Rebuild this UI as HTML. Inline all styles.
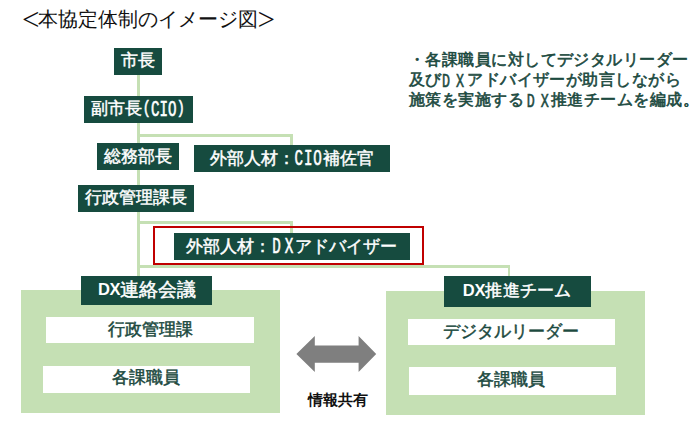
<!DOCTYPE html>
<html lang="ja">
<head>
<meta charset="utf-8">
<title>本協定体制のイメージ図</title>
<style>
  html, body { margin: 0; padding: 0; background: #ffffff; }
  body {
    width: 700px; height: 433px; position: relative; overflow: hidden;
    font-family: "Liberation Sans", sans-serif;
    color: #000;
  }
  .abs { position: absolute; }
  .title {
    left: 22px; top: 5px; height: 28px; line-height: 28px;
    font-size: 20px; white-space: nowrap; color: #111;
  }
  .title .br {
    display: inline-block; width: 15.6px; text-align: center;
    font-family: "Liberation Serif", serif;
    font-size: 31px; line-height: 28px; vertical-align: top;
    position: relative; top: 0.6px;
  }
  .hw {
    font-family: "Liberation Mono", monospace; font-size: 0.835em; letter-spacing: 0;
    font-weight: normal; -webkit-text-stroke: 0.4px currentColor;
    display: inline-block; line-height: 1; transform: translateY(0.187em) scaleY(1.52); transform-origin: 50% 76.6%;
  }
  .hw.pr { transform: translateY(0.03em) scaleY(1.29); }
  .lat { font-size: 16.5px; letter-spacing: -0.2px; font-weight: bold; -webkit-text-stroke: 0; }
  .ln { position: absolute; background: #c5e0b4; }
  .box {
    position: absolute; background: #164b3f; color: #ffffff;
    font-weight: normal; -webkit-text-stroke: 0.45px currentColor; font-size: 17px; line-height: 19px; white-space: nowrap;
    display: flex; align-items: center; justify-content: center;
    box-sizing: border-box; padding-bottom: 1.6px;
  }
  .panel { position: absolute; background: #c5e0b4; }
  .wbox {
    position: absolute; background: #ffffff; color: #1c4a3f;
    font-weight: normal; -webkit-text-stroke: 0.5px currentColor; font-size: 17px; line-height: 19px; white-space: nowrap;
    display: flex; align-items: center; justify-content: center;
    box-sizing: border-box;
  }
  .red { position: absolute; border: 2.6px solid #c00000; box-sizing: border-box; }
  .note {
    position: absolute; left: 409px; top: 50px; width: 295px;
    font-size: 16px; letter-spacing: 0.45px; line-height: 20px; font-weight: normal; -webkit-text-stroke: 0.6px currentColor; color: #1c4a3f;
    white-space: nowrap;
  }
  .share {
    position: absolute; left: 297.7px; top: 391px; width: 80px; height: 18px; line-height: 18px;
    text-align: center; font-size: 15px; font-weight: bold; color: #111; white-space: nowrap;
  }
</style>
</head>
<body>
  <div class="abs title"><span class="br">&lt;</span>本協定体制のイメージ図<span class="br">&gt;</span></div>

  <!-- connector lines -->
  <div class="ln" style="left:137.1px; top:70px; width:3px; height:210px;"></div>
  <div class="ln" style="left:139px; top:133.9px; width:154.2px; height:2.9px;"></div>
  <div class="ln" style="left:290.4px; top:133.9px; width:2.8px; height:14px;"></div>
  <div class="ln" style="left:139px; top:221px; width:154.2px; height:2.9px;"></div>
  <div class="ln" style="left:290.4px; top:221px; width:2.8px; height:15px;"></div>
  <div class="ln" style="left:139px; top:265.1px; width:371.4px; height:2.8px;"></div>
  <div class="ln" style="left:507.7px; top:265.1px; width:2.7px; height:14px;"></div>

  <!-- panels -->
  <div class="panel" style="left:20.8px; top:290px; width:259.2px; height:123.2px;"></div>
  <div class="panel" style="left:386px; top:291.3px; width:259px; height:123.6px;"></div>

  <!-- dark boxes -->
  <div class="box" style="left:114.2px; top:48px; width:48px; height:26.9px;">市長</div>
  <div class="box" style="left:84px; top:96.1px; width:108.5px; height:26.8px;">副市長<span class="hw pr">(</span><span class="hw">CIO</span><span class="hw pr">)</span></div>
  <div class="box" style="left:97.4px; top:143.2px; width:81.6px; height:27px; padding-bottom:0;">総務部長</div>
  <div class="box" style="left:193.7px; top:145.4px; width:195.9px; height:27px;">外部人材：<span class="hw" style="letter-spacing:0.9px;">CIO</span>補佐官</div>
  <div class="box" style="left:77.9px; top:185.1px; width:115.7px; height:27px;">行政管理課長</div>
  <div class="red" style="left:153px; top:226.2px; width:271px; height:38.5px;"></div>
  <div class="box" style="left:173.6px; top:233.1px; width:236.6px; height:26.7px; padding-bottom:0;">外部人材：<span class="hw" style="letter-spacing:4px; padding-left:0.9px; margin-right:-1.9px;">DX</span>アドバイザー</div>
  <div class="box" style="left:81px; top:276px; width:131.1px; height:29.4px; font-size:19px; line-height:21px; letter-spacing:-0.3px;"><span class="lat">DX</span>連絡会議</div>
  <div class="box" style="left:443.7px; top:276px; width:147.2px; height:31px; letter-spacing:0.3px;"><span class="lat">DX</span>推進チーム</div>

  <!-- white boxes -->
  <div class="wbox" style="left:46.3px; top:316.5px; width:207.4px; height:26.6px; padding-left:1.6px;">行政管理課</div>
  <div class="wbox" style="left:42.5px; top:365.7px; width:207.5px; height:27.3px; padding-bottom:4.2px;">各課職員</div>
  <div class="wbox" style="left:407.8px; top:319px; width:206.9px; height:26.3px; padding-bottom:1.4px;">デジタルリーダー</div>
  <div class="wbox" style="left:408.7px; top:367.2px; width:207.5px; height:27.4px; padding-bottom:2.4px; padding-right:2.2px;">各課職員</div>

  <!-- double arrow -->
  <svg class="abs" style="left:290px; top:330px;" width="95" height="50" viewBox="290 330 95 50">
    <polygon fill="#7f7f7f" points="296.4,354 314.8,336 314.8,345.4 358.6,345.4 358.6,336 376.2,354 358.6,372 358.6,362.7 314.8,362.7 314.8,372"/>
  </svg>
  <div class="share">情報共有</div>

  <!-- note -->
  <div class="note">・各課職員に対してデジタルリーダー<br>及び<span class="hw" style="letter-spacing:6px; padding-left:0.1px; margin-right:-2.9px;">DX</span>アドバイザーが助言しながら<br>施策を実施する<span class="hw" style="letter-spacing:6.2px; padding-left:2.5px; margin-right:-4.2px;">DX</span>推進チームを編成。</div>
</body>
</html>
